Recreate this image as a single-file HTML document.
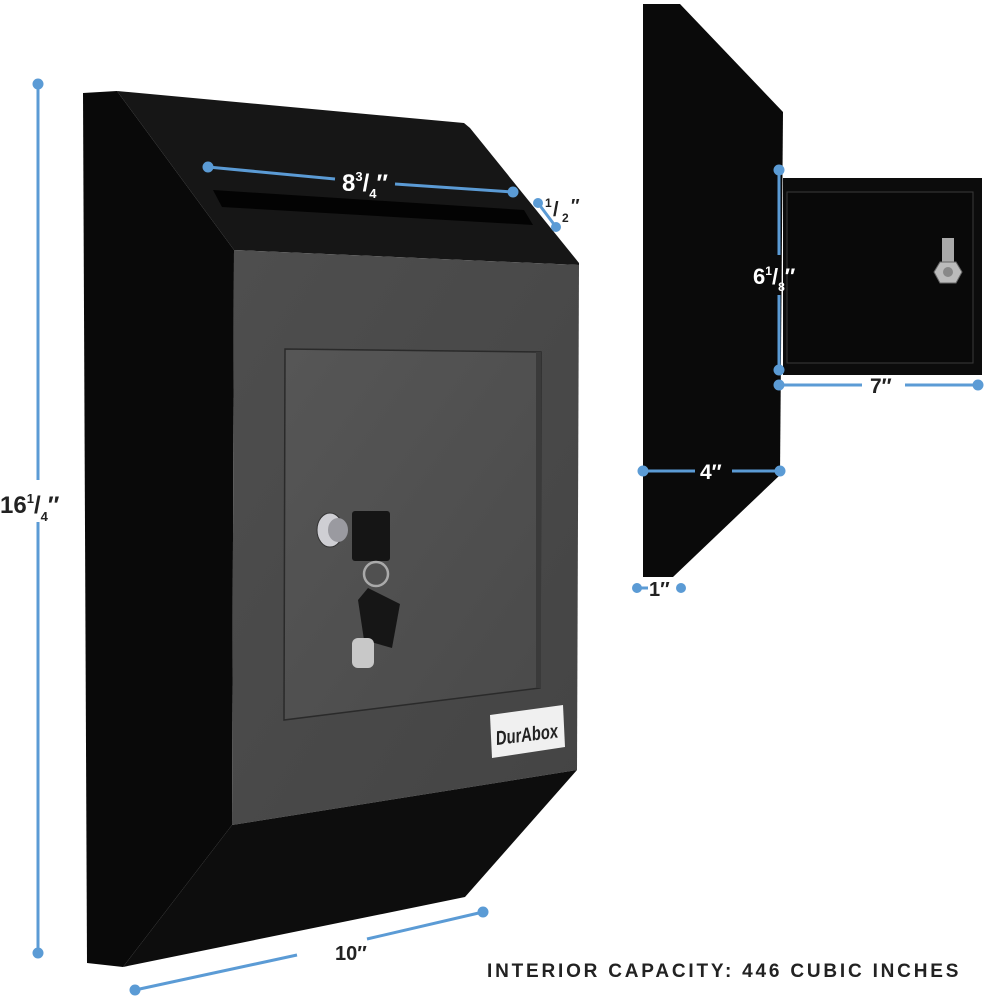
<!DOCTYPE html>
<html><head><meta charset="utf-8"><style>
html,body{margin:0;padding:0;background:#fff;}
svg{display:block;}
text{font-family:"Liberation Sans",sans-serif;font-weight:bold;}
</style></head><body>
<svg width="1000" height="1000" viewBox="0 0 1000 1000" xmlns="http://www.w3.org/2000/svg">
<defs>
<linearGradient id="gface" x1="0" y1="0" x2="1" y2="1">
<stop offset="0" stop-color="#4e4e4e"/><stop offset="1" stop-color="#444"/></linearGradient>
<linearGradient id="door" x1="0" y1="0" x2="1" y2="1">
<stop offset="0" stop-color="#565656"/><stop offset="1" stop-color="#4a4a4a"/></linearGradient>
</defs>
<!-- main box -->
<polygon points="83,93 117,91 234,250 232,825 123,967 87,963" fill="#090909"/>
<polygon points="117,91 464,123 470,128 579,263 579,265 234,250" fill="#161616"/>
<polygon points="213,190 524,210 533,225 222,207" fill="#030303"/>
<polygon points="234,250 579,265 577,770 232,825" fill="url(#gface)"/>
<polygon points="232,825 577,770 465,897 123,967" fill="#0d0d0d"/>
<!-- door -->
<polygon points="285,349 541,352 540,688 284,720" fill="url(#door)" stroke="#2a2a2a" stroke-width="1.5"/>
<rect x="536" y="352" width="5" height="336" fill="#3a3a3a"/>
<!-- lock & keys -->
<ellipse cx="330" cy="530" rx="13" ry="17" fill="#cfcfd4" stroke="#333"/>
<ellipse cx="338" cy="530" rx="10" ry="12" fill="#9a9aa0"/>
<rect x="352" y="511" width="38" height="50" rx="3" fill="#151515"/>
<circle cx="376" cy="574" r="12" fill="none" stroke="#aaa" stroke-width="2.5"/>
<polygon points="368,588 400,604 392,648 364,640 358,600" fill="#161616"/>
<rect x="352" y="638" width="22" height="30" rx="6" fill="#c8c8c8"/>
<!-- logo -->
<polygon points="490,715 563,705 565,747 492,758" fill="#f0f0f0"/>
<text x="527" y="742" font-size="20" text-anchor="middle" fill="#222" transform="skewY(-7) translate(0,64)" textLength="62" lengthAdjust="spacingAndGlyphs">DurAbox</text>

<!-- side view -->
<polygon points="643,4 680,4 783,112 780,475 673,577 643,577" fill="#0a0a0a"/>
<rect x="783" y="178" width="199" height="197" fill="#0c0c0c"/>
<rect x="787" y="192" width="186" height="171" fill="#090909" stroke="#3a3a3a" stroke-width="1"/>
<rect x="942" y="238" width="12" height="26" fill="#aaa"/>
<polygon points="940,262 956,262 962,272 956,283 940,283 934,272" fill="#bbb" stroke="#666"/>
<circle cx="948" cy="272" r="5" fill="#888"/>

<!-- dimension lines -->
<g stroke="#5b9bd5" stroke-width="3" fill="#5b9bd5">
<line x1="38" y1="84" x2="38" y2="480"/><line x1="38" y1="522" x2="38" y2="953"/>
<circle cx="38" cy="84" r="4"/><circle cx="38" cy="953" r="4"/>
<line x1="208" y1="167" x2="335" y2="179"/><line x1="395" y1="184" x2="513" y2="192"/>
<circle cx="208" cy="167" r="4"/><circle cx="513" cy="192" r="4"/>
<line x1="538" y1="203" x2="556" y2="227"/><circle cx="538" cy="203" r="3.5"/><circle cx="556" cy="227" r="3.5"/>
<line x1="135" y1="990" x2="297" y2="955"/><line x1="367" y1="939" x2="483" y2="912"/>
<circle cx="135" cy="990" r="4"/><circle cx="483" cy="912" r="4"/>
<line x1="779" y1="170" x2="779" y2="255"/><line x1="779" y1="295" x2="779" y2="370"/>
<circle cx="779" cy="170" r="4"/><circle cx="779" cy="370" r="4"/>
<line x1="779" y1="385" x2="862" y2="385"/><line x1="905" y1="385" x2="978" y2="385"/>
<circle cx="779" cy="385" r="4"/><circle cx="978" cy="385" r="4"/>
<line x1="643" y1="471" x2="695" y2="471"/><line x1="732" y1="471" x2="780" y2="471"/>
<circle cx="643" cy="471" r="4"/><circle cx="780" cy="471" r="4"/>
<line x1="637" y1="588" x2="648" y2="588"/><circle cx="637" cy="588" r="3.5"/><circle cx="681" cy="588" r="3.5"/>
</g>
<!-- labels -->
<g fill="#222">
<text x="0" y="513" font-size="24">16<tspan font-size="13" dy="-10">1</tspan><tspan dy="10">/</tspan><tspan font-size="13" dy="8">4</tspan><tspan dy="-8">″</tspan></text>
<text x="335" y="960" font-size="20">10″</text>
<text x="487" y="977" font-size="19" letter-spacing="2.8">INTERIOR CAPACITY: 446 CUBIC INCHES</text>
<text x="649" y="596" font-size="20">1″</text>
<text x="870" y="393" font-size="21">7″</text>
<text x="545" y="207" font-size="12">1</text>
<text x="553" y="216" font-size="20">/</text>
<text x="562" y="222" font-size="12">2</text>
<text x="571" y="212" font-size="18">″</text>
</g>
<g fill="#fff">
<text x="342" y="191" font-size="24">8<tspan font-size="13" dy="-10">3</tspan><tspan dy="10">/</tspan><tspan font-size="13" dy="7">4</tspan><tspan dy="-7">″</tspan></text>
<text x="753" y="284" font-size="22">6<tspan font-size="12" dy="-9">1</tspan><tspan dy="9">/</tspan><tspan font-size="12" dy="7">8</tspan><tspan dy="-7">″</tspan></text>
<text x="700" y="479" font-size="21">4″</text>
</g>
</svg>
</body></html>
